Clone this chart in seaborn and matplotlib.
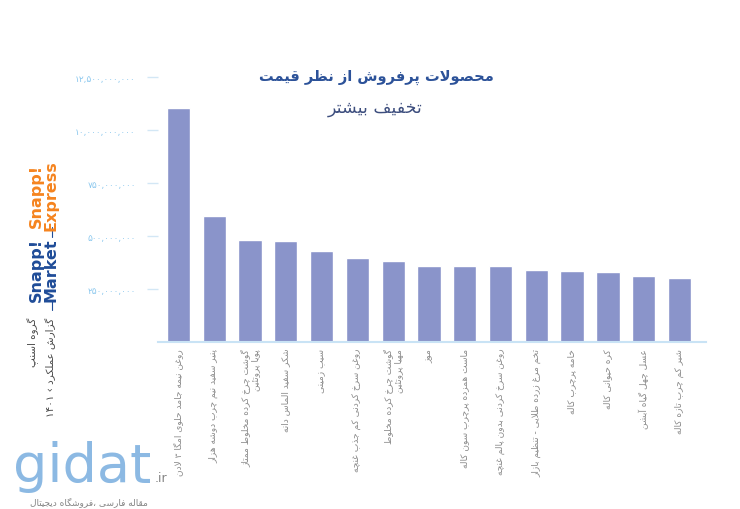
import re

import matplotlib
matplotlib.use("Agg")
import matplotlib.pyplot as plt
import seaborn as sns

# ── data ──────────────────────────────────────────────────────────────────────
PRODUCTS = [
    "روغن نیمه جامد حلوی امگا ۳ لادن",
    "پنیر سفید نیم چرب دوشه هزار",
    "گوشت چرخ کرده مخلوط ممتاز\nپویا پروتئین",
    "شکر سفید الماس دانه",
    "سیب زمینی",
    "روغن سرخ کردنی کم جذب غنچه",
    "گوشت چرخ کرده مخلوط\nمهیا پروتئین",
    "موز",
    "ماست همزده پرچرب سون کاله",
    "روغن سرخ کردنی بدون پالم غنچه",
    "تخم مرغ زرده طلایی - تنظیم بازار",
    "خامه پرچرب کاله",
    "کره حیوانی کاله",
    "عسل چهل گیاه آبشن",
    "شیر کم چرب تازه کاله",
]
SALES = [1105e6, 594e6, 480e6, 475e6, 429e6, 396e6, 385e6, 361e6,
         361e6, 357e6, 340e6, 336e6, 332e6, 314e6, 305e6]

Y_TICKS = [250e6, 500e6, 750e6, 1000e6, 1250e6]
Y_TICK_LABELS = ["۲۵۰,۰۰۰,۰۰۰", "۵۰۰,۰۰۰,۰۰۰", "۷۵۰,۰۰۰,۰۰۰",
                 "۱۰,۰۰۰,۰۰۰,۰۰۰", "۱۲,۵۰۰,۰۰۰,۰۰۰"]

TITLE = "محصولات پرفروش از نظر قیمت"
SUBTITLE = "تخفیف بیشتر"

PALETTE = {
    "bar": "#8A94CA",
    "title": "#2C5299",
    "subtitle": "#3D4E7E",
    "ytick": "#8CC8EE",
    "tick": "#D3E7F5",
    "axis": "#C9E3F5",
    "label": "#8C8C8C",
    "orange": "#F5841F",
    "blue": "#1F4C98",
}

# ── minimal Persian shaping (matplotlib has no RTL / joining support) ────────
FORMS = {
    "ا": ("\uFE8D", "\uFE8E", None, None),
    "آ": ("\uFE81", "\uFE82", None, None),
    "ب": ("\uFE8F", "\uFE90", "\uFE91", "\uFE92"),
    "پ": ("\uFB56", "\uFB57", "\uFB58", "\uFB59"),
    "ت": ("\uFE95", "\uFE96", "\uFE97", "\uFE98"),
    "ث": ("\uFE99", "\uFE9A", "\uFE9B", "\uFE9C"),
    "ج": ("\uFE9D", "\uFE9E", "\uFE9F", "\uFEA0"),
    "چ": ("\uFB7A", "\uFB7B", "\uFB7C", "\uFB7D"),
    "ح": ("\uFEA1", "\uFEA2", "\uFEA3", "\uFEA4"),
    "خ": ("\uFEA5", "\uFEA6", "\uFEA7", "\uFEA8"),
    "د": ("\uFEA9", "\uFEAA", None, None),
    "ذ": ("\uFEAB", "\uFEAC", None, None),
    "ر": ("\uFEAD", "\uFEAE", None, None),
    "ز": ("\uFEAF", "\uFEB0", None, None),
    "ژ": ("\uFB8A", "\uFB8B", None, None),
    "س": ("\uFEB1", "\uFEB2", "\uFEB3", "\uFEB4"),
    "ش": ("\uFEB5", "\uFEB6", "\uFEB7", "\uFEB8"),
    "ص": ("\uFEB9", "\uFEBA", "\uFEBB", "\uFEBC"),
    "ض": ("\uFEBD", "\uFEBE", "\uFEBF", "\uFEC0"),
    "ط": ("\uFEC1", "\uFEC2", "\uFEC3", "\uFEC4"),
    "ظ": ("\uFEC5", "\uFEC6", "\uFEC7", "\uFEC8"),
    "ع": ("\uFEC9", "\uFECA", "\uFECB", "\uFECC"),
    "غ": ("\uFECD", "\uFECE", "\uFECF", "\uFED0"),
    "ف": ("\uFED1", "\uFED2", "\uFED3", "\uFED4"),
    "ق": ("\uFED5", "\uFED6", "\uFED7", "\uFED8"),
    "ک": ("\uFB8E", "\uFB8F", "\uFB90", "\uFB91"),
    "گ": ("\uFB92", "\uFB93", "\uFB94", "\uFB95"),
    "ل": ("\uFEDD", "\uFEDE", "\uFEDF", "\uFEE0"),
    "م": ("\uFEE1", "\uFEE2", "\uFEE3", "\uFEE4"),
    "ن": ("\uFEE5", "\uFEE6", "\uFEE7", "\uFEE8"),
    "ه": ("\uFEE9", "\uFEEA", "\uFEEB", "\uFEEC"),
    "و": ("\uFEED", "\uFEEE", None, None),
    "ی": ("\uFBFC", "\uFBFD", "\uFBFE", "\uFBFF"),
    "ئ": ("\uFE89", "\uFE8A", "\uFE8B", "\uFE8C"),
}
LAM_ALEF = {"ا": ("\uFEFB", "\uFEFC"), "آ": ("\uFEF5", "\uFEF6")}


def _shape_line(text):
    out, i, n = [], 0, len(text)
    while i < n:
        c = text[i]
        if c not in FORMS:
            out.append(c)
            i += 1
            continue
        prev = text[i - 1] if i > 0 else ""
        link_prev = prev in FORMS and FORMS[prev][2] is not None
        if c == "ل" and i + 1 < n and text[i + 1] in LAM_ALEF:
            iso, fin = LAM_ALEF[text[i + 1]]
            out.append(fin if link_prev else iso)
            i += 2
            continue
        nxt = text[i + 1] if i + 1 < n else ""
        iso, fin, ini, med = FORMS[c]
        link_next = ini is not None and nxt in FORMS
        if link_prev and link_next:
            out.append(med)
        elif link_prev:
            out.append(fin)
        elif link_next:
            out.append(ini)
        else:
            out.append(iso)
        i += 1
    s = "".join(out)[::-1]
    # digit runs stay left-to-right
    return re.sub(r"[0-9۰-۹][0-9۰-۹,]*", lambda m: m.group(0)[::-1], s)


def fa(text):
    return "\n".join(_shape_line(line) for line in text.split("\n"))


# ── figure ────────────────────────────────────────────────────────────────────
sns.set_theme(style="white")
plt.rcParams["font.family"] = ["DejaVu Sans"]

fig = plt.figure(figsize=(7.4, 5.1), dpi=100)
fig.patch.set_facecolor("white")
ax = fig.add_axes([0.2135, 0.327, 0.7405, 0.520])

sns.barplot(x=list(range(len(SALES))), y=SALES, color=PALETTE["bar"],
            width=0.65, saturation=1, ax=ax)

ax.set_xlim(-0.57, 14.74)
ax.set_ylim(0, 1250e6)
ax.set_yticks(Y_TICKS)
ax.set_yticklabels(Y_TICK_LABELS, fontsize=6.5, color=PALETTE["ytick"])
ax.set_xticks(range(len(PRODUCTS)))
ax.set_xticklabels([fa(p) for p in PRODUCTS], rotation=90, fontsize=6.5,
                   color=PALETTE["label"], va="top", ha="center",
                   multialignment="right", linespacing=1.1)
ax.tick_params(axis="y", length=8, width=1, color=PALETTE["tick"], pad=8, left=True)
ax.tick_params(axis="x", length=0, pad=4)
ax.set_xlabel("")
ax.set_ylabel("")
ax.grid(False)
for side in ("left", "top", "right"):
    ax.spines[side].set_visible(False)
ax.spines["bottom"].set_color(PALETTE["axis"])
ax.spines["bottom"].set_linewidth(1.5)

# titles
fig.text(376 / 740, 1 - 77 / 510, fa(TITLE), ha="center", va="center",
         fontsize=10.5, fontweight="bold", color=PALETTE["title"])
fig.text(375 / 740, 1 - 108 / 510, fa(SUBTITLE), ha="center", va="center",
         fontsize=12.5, color=PALETTE["subtitle"])

# side branding
fig.text(44 / 740, 1 - 196 / 510, "Snapp!\nExpress", rotation=90, ha="center",
         va="center", fontsize=11.5, fontweight="bold", color=PALETTE["orange"],
         linespacing=0.95)
fig.text(44 / 740, 1 - 270 / 510, "Snapp!\nMarket", rotation=90, ha="center",
         va="center", fontsize=11.5, fontweight="bold", color=PALETTE["blue"],
         linespacing=0.95)
for ymid in (233, 306):
    fig.add_artist(plt.Line2D([52 / 740, 52 / 740],
                              [1 - (ymid - 5) / 510, 1 - (ymid + 5) / 510],
                              color=PALETTE["blue"], lw=0.8))
fig.text(33 / 740, 1 - 318 / 510, fa("گروه اسنپ"), rotation=90, ha="center",
         va="top", fontsize=7.5, color="#4A4A4A")
fig.text(51 / 740, 1 - 318 / 510, fa("گزارش عملکرد ‹ ۱۴۰۱"), rotation=90,
         ha="center", va="top", fontsize=7.5, color="#4A4A4A")

# watermark
fig.text(13 / 740, 1 - 482 / 510, "gidat", ha="left", va="baseline",
         fontsize=39, color="#6FA8DC", alpha=0.8)
fig.text(155 / 740, 1 - 482 / 510, ".ir", ha="left", va="baseline",
         fontsize=9, color="#666666", alpha=0.8)
fig.text(148 / 740, 1 - 502 / 510, fa("مقاله فارسی ،فروشگاه دیجیتال"),
         ha="right", va="center", fontsize=6.5, color="#777777", alpha=0.9)

fig.savefig("out.png", dpi=100)
plt.close(fig)
